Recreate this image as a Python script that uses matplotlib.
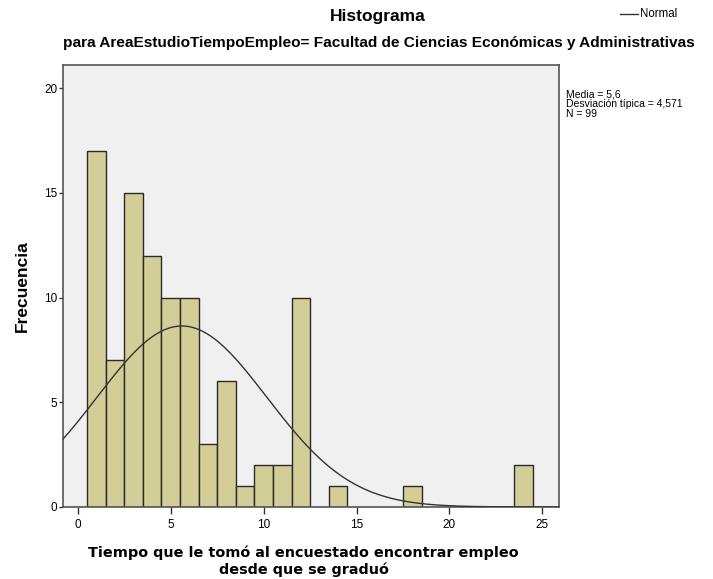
import numpy as np
import matplotlib.pyplot as plt

# bins of width 1 centred on integer years
centers = [1, 2, 3, 4, 5, 6, 7, 8, 9, 10, 11, 12, 14, 18, 24]
counts = [17, 7, 15, 12, 10, 10, 3, 6, 1, 2, 2, 10, 1, 1, 2]
media = 5.6
desv = 4.571
n = 99

plt.rcParams['font.family'] = ['Liberation Sans', 'DejaVu Sans']

fig = plt.figure(figsize=(7.13, 5.79), dpi=100)
ax = fig.add_axes([0.0884, 0.1244, 0.6956, 0.7633])
ax.set_facecolor('#f0f0f0')

ax.bar(centers, counts, width=1.0, color='#d3ce97', edgecolor='#2a2a2a', linewidth=1.0, zorder=2)

xs = np.linspace(-0.8, 25.9, 400)
ys = n * 1.0 / (desv * np.sqrt(2 * np.pi)) * np.exp(-0.5 * ((xs - media) / desv) ** 2)
ax.plot(xs, ys, color='#333333', linewidth=1.0, zorder=3)

ax.set_xlim(-0.8, 25.9)
ax.set_ylim(0, 21.1)
ax.set_xticks([0, 5, 10, 15, 20, 25])
ax.set_yticks([0, 5, 10, 15, 20])
ax.tick_params(labelsize=8.5, length=5, width=1, color='#333333')
ax.tick_params(axis='y', length=3, pad=1)
for s in ax.spines.values():
    s.set_color('#555555')
    s.set_linewidth(1.2)

ax.set_ylabel('Frecuencia', fontsize=12.5, fontweight='bold', labelpad=10)
ax.set_xlabel('Tiempo que le tomó al encuestado encontrar empleo\ndesde que se graduó',
              fontsize=10.4, fontweight='bold', linespacing=1.25,
              family='DejaVu Sans')
ax.xaxis.set_label_coords(0.485, -0.087)
ax.xaxis.label.set_va('top')

fig.text(0.53, 0.985, 'Histograma', ha='center', va='top', fontsize=12.5, fontweight='bold')
fig.text(0.532, 0.938, 'para AreaEstudioTiempoEmpleo= Facultad de Ciencias Económicas y Administrativas',
         ha='center', va='top', fontsize=11.1, fontweight='bold')

# legend entry
fig.add_artist(plt.Line2D([0.869, 0.895], [0.975, 0.975], color='#333333', linewidth=1.0))
fig.text(0.897, 0.975, 'Normal', ha='left', va='center', fontsize=8.3)

fig.text(0.794, 0.845, 'Media = 5,6\nDesviación típica = 4,571\nN = 99',
         ha='left', va='top', fontsize=7.5, linespacing=0.95)

fig.savefig('out.png', dpi=100)
